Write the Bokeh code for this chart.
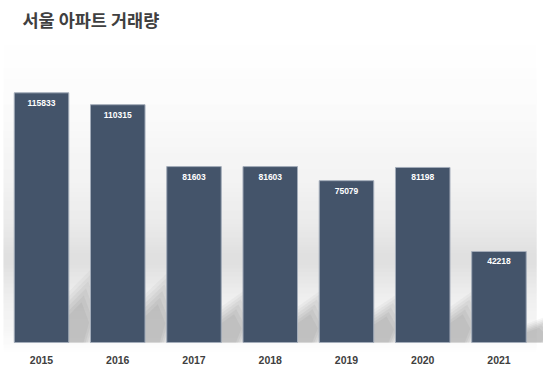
from bokeh.plotting import figure
from bokeh.models import ColumnDataSource, Range1d, Label
from bokeh.core.properties import value
from bokeh.embed import file_html
from bokeh.resources import INLINE

# ---- data ----
years = ["2015", "2016", "2017", "2018", "2019", "2020", "2021"]
volumes = [115833, 110315, 81603, 81603, 75079, 81198, 42218]
title_text = "서울 아파트 거래량"

# ---- layout constants ----
W, H = 543, 369
PX = 463.9           # data units per vertical pixel
FLOOR_PX = 342       # figure y of value 0
BAR_W = 0.715
xs = list(range(len(years)))
x0, x1 = -0.538, 6.584
y0, y1 = -(H - FLOOR_PX) * PX, FLOOR_PX * PX

p = figure(width=W, height=H, output_backend="svg", toolbar_location=None,
           x_range=Range1d(x0, x1), y_range=Range1d(y0, y1),
           min_border=0, min_border_left=0, min_border_right=0,
           min_border_top=0, min_border_bottom=0)
p.axis.visible = False
p.grid.visible = False
p.outline_line_color = None
p.background_fill_color = "white"
p.border_fill_color = "white"

# ---- background gradient (fig y -> gray level) ----
stops = [(30, 255), (60, 254), (110, 250), (180, 241), (225, 231), (250, 221),
         (262, 219), (280, 229), (300, 238), (325, 244), (342, 250), (352, 255), (370, 255)]
def fy_to_val(yr):
    return (FLOOR_PX - yr) * PX
bl, br, bt, bb, bc = [], [], [], [], []
for (ya, ga), (yb, gb) in zip(stops[:-1], stops[1:]):
    n = max(1, int(yb - ya))
    for k in range(n):
        yy = ya + (yb - ya) * k / n
        g = int(round(ga + (gb - ga) * k / n))
        bl.append(x0 + 0.04); br.append(x1 - 0.09)
        bt.append(fy_to_val(yy)); bb.append(fy_to_val(yy + (yb - ya) / n + 0.3))
        bc.append("#%02x%02x%02x" % (g, g, g))
p.quad(left=bl, right=br, top=bt, bottom=bb, fill_color=bc, line_color=None)

# ---- soft shadows (layered for blur) ----
layers = [(1.30, 0.10), (1.18, 0.12), (1.06, 0.14), (0.94, 0.16), (0.82, 0.18), (0.70, 0.20)]
for grow, a in layers:
    sx, sy = [], []
    for i, v in enumerate(volumes):
        R = i + BAR_W / 2
        hs = 0.23 * v * grow
        sx.append([R - 0.45, R + 0.22 * grow + 0.04, R + 0.38 * grow, R + 0.24 * grow, R + 0.0])
        sy.append([0, 0, hs * 0.50, hs, hs * 0.68])
    p.patches(sx, sy, fill_color="#a2a2a2", fill_alpha=a, line_color=None)

# ---- bars ----
src = ColumnDataSource(dict(x=xs, top=volumes, year=years,
                            lab=[str(v) for v in volumes],
                            ly=[v - 10 * PX for v in volumes],
                            yy=[-17 * PX] * len(years)))
p.vbar(x="x", top="top", bottom=0, width=BAR_W, source=src,
       fill_color="#44546a", line_color="#a3acb9", line_width=1)

p.text(x="x", y="ly", text="lab", source=src, text_align="center",
       text_baseline="middle", text_color="white",
       text_font=value("Liberation Sans"), text_font_style="bold",
       text_font_size="8.5px")

p.text(x="x", y="yy", text="year", source=src, text_align="center",
       text_baseline="middle", text_color="#404040",
       text_font=value("Liberation Sans"), text_font_style="bold",
       text_font_size="10.5px")

p.add_layout(Label(x=22, y=H - 19, x_units="screen", y_units="screen",
                   text=title_text, text_font="Noto Sans CJK KR",
                   text_font_style="bold", text_font_size="17.5px",
                   text_color="#404040", text_baseline="middle"))

open("out.html", "w").write(file_html(p, INLINE))
